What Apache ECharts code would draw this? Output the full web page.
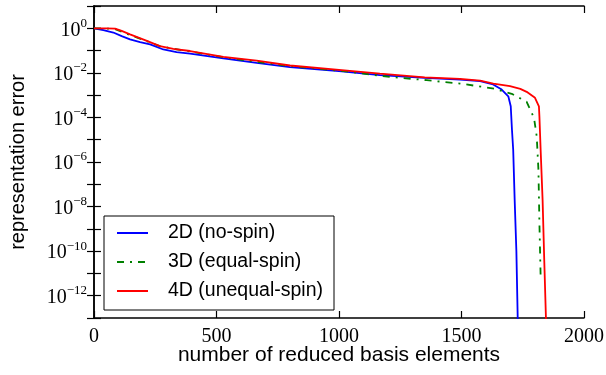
<!DOCTYPE html>
<html>
<head>
<meta charset="utf-8">
<script src="https://cdn.jsdelivr.net/npm/echarts@6/dist/echarts.min.js"></script>
<style>
  html, body { margin: 0; padding: 0; background: #fff; }
  #chart { width: 606px; height: 375px; }
</style>
</head>
<body>
<div id="chart"></div>
<script>
// values
const x2D = [0, 38, 79, 113, 147, 188, 229, 283, 337, 392, 528, 664, 800, 1000, 1167, 1350, 1494, 1576, 1629, 1664, 1691, 1701, 1706, 1711, 1717, 1724, 1730];
const y2D = [1, 0.832, 0.646, 0.447, 0.316, 0.240, 0.191, 0.112, 0.0851, 0.0724, 0.0447, 0.0282, 0.0182, 0.0120, 0.00794, 0.00600, 0.00501, 0.00427, 0.00302, 0.00178, 8.91e-4, 3.16e-4, 2.82e-5, 3.55e-6, 2e-8, 1e-10, 5e-14];

const x3D = [0, 50, 86, 113, 147, 208, 269, 324, 392, 528, 664, 800, 1000, 1208, 1358, 1494, 1569, 1637, 1705, 1766, 1796, 1807, 1814, 1818, 1823];
const y3D = [1, 0.98, 0.912, 0.708, 0.501, 0.282, 0.158, 0.120, 0.0912, 0.0501, 0.0316, 0.0200, 0.0126, 0.00661, 0.00468, 0.00331, 0.00251, 0.00191, 0.00115, 5.01e-4, 9.5e-5, 1.41e-5, 4.47e-7, 1.78e-9, 7.08e-12];

const x4D = [0, 50, 86, 113, 147, 208, 269, 324, 392, 528, 664, 800, 1000, 1167, 1350, 1494, 1576, 1630, 1698, 1740, 1766, 1800, 1816, 1818, 1820, 1823, 1831, 1838, 1846];
const y4D = [1, 0.99, 0.966, 0.759, 0.537, 0.295, 0.158, 0.120, 0.0955, 0.0525, 0.0355, 0.0214, 0.0135, 0.00933, 0.00631, 0.00537, 0.00447, 0.00331, 0.00251, 0.00191, 0.00141, 7.59e-4, 3.16e-4, 1.12e-4, 2.82e-5, 3.55e-6, 2e-8, 3.16e-11, 3.16e-14];

const pairs = (xs, ys) => xs.map((x, i) => [x, ys[i]]);

const chart = echarts.init(document.getElementById('chart'), null, { renderer: 'canvas' });

const serif = 'Liberation Serif';
const sans = 'Liberation Sans';

const expLabel = (v) => {
  const e = Math.round(Math.log10(v));
  if (e % 2 !== 0) return '';
  return '{b|10}{s|' + (e < 0 ? '\u2212' + (-e) : e) + '}';
};

const frameLine = { show: true, lineStyle: { color: '#000', width: 1.5 } };
const tickIn = { show: true, inside: true, length: 7, lineStyle: { color: '#000', width: 1.2 } };

const option = {
  animation: false,
  backgroundColor: '#fff',
  grid: { left: 94, right: 22, top: 6, bottom: 57, outerBoundsMode: 'none' },
  legend: {
    orient: 'vertical',
    left: 104,
    top: 216,
    padding: [7, 11, 9, 12],
    itemGap: 9,
    itemWidth: 31,
    itemHeight: 14,
    borderColor: '#000',
    borderWidth: 1,
    backgroundColor: '#fff',
    itemStyle: { color: 'rgba(0,0,0,0)', borderWidth: 0 },
    textStyle: { fontFamily: sans, fontSize: 19.5, lineHeight: 20, color: '#000', padding: [0, 0, 0, 15] },
    data: ['2D (no-spin)', '3D (equal-spin)', '4D (unequal-spin)']
  },
  xAxis: [
    {
      type: 'value',
      min: 0, max: 2000, interval: 500,
      name: 'number of reduced basis elements',
      nameLocation: 'middle',
      nameMoveOverlap: false,
      nameGap: 27,
      nameTextStyle: { fontFamily: sans, fontSize: 21, color: '#000' },
      axisLine: frameLine,
      axisTick: tickIn,
      splitLine: { show: false },
      axisLabel: { fontFamily: serif, fontSize: 20, color: '#000', margin: 9, formatter: (v) => String(v) }
    },
    {
      type: 'value', position: 'top',
      min: 0, max: 2000, interval: 500,
      axisLine: frameLine, axisTick: tickIn,
      splitLine: { show: false }, axisLabel: { show: false }
    }
  ],
  yAxis: [
    {
      type: 'log', logBase: 10,
      min: 1e-13, max: 10, interval: 1,
      name: 'representation error',
      nameLocation: 'middle',
      nameMoveOverlap: false,
      nameGap: 66,
      nameTextStyle: { fontFamily: sans, fontSize: 20, color: '#000' },
      axisLine: frameLine,
      axisTick: tickIn,
      splitLine: { show: false },
      axisLabel: {
        margin: 7,
        formatter: expLabel,
        rich: {
          b: { fontFamily: serif, fontSize: 20, color: '#000', padding: [4, 0, 0, 0] },
          s: { fontFamily: serif, fontSize: 13, color: '#000', padding: [0, 0, 10, 0] }
        }
      }
    },
    {
      type: 'log', logBase: 10, position: 'right',
      min: 1e-13, max: 10, interval: 1,
      axisLine: frameLine, axisTick: tickIn,
      splitLine: { show: false }, axisLabel: { show: false }
    }
  ],
  series: [
    {
      name: '2D (no-spin)', type: 'line', symbol: 'none', clip: true,
      data: pairs(x2D, y2D),
      lineStyle: { color: '#0000ff', width: 1.8 }, itemStyle: { color: '#0000ff' }
    },
    {
      name: '3D (equal-spin)', type: 'line', symbol: 'none', clip: true,
      data: pairs(x3D, y3D),
      lineStyle: { color: '#008000', width: 1.8, type: [7, 6, 2, 6] }, itemStyle: { color: '#008000' }
    },
    {
      name: '4D (unequal-spin)', type: 'line', symbol: 'none', clip: true,
      data: pairs(x4D, y4D),
      lineStyle: { color: '#ff0000', width: 1.8 }, itemStyle: { color: '#ff0000' }
    }
  ]
};

chart.setOption(option);
</script>
</body>
</html>
